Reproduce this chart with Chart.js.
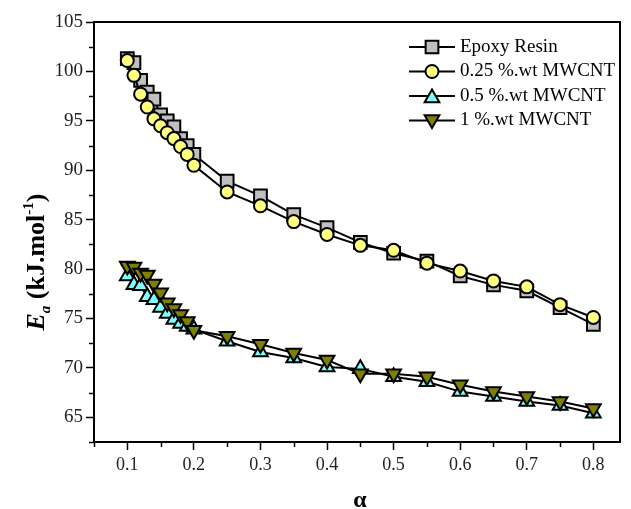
<!DOCTYPE html>
<html lang="en">
<head>
  <meta charset="UTF-8">
  <title>Activation energy vs conversion</title>
  <style>
    body { margin: 0; background: #fff; }
    .chart-box { width: 631px; height: 509px; position: relative; }
  </style>
  <script src="https://cdn.jsdelivr.net/npm/chart.js"></script>
</head>
<body>
  <div class="chart-box">
    <canvas id="eaChart"></canvas>
  </div>

  <script>
    // conversion values (alpha)
    const alpha = [0.10, 0.11, 0.12, 0.13, 0.14, 0.15, 0.16, 0.17, 0.18, 0.19, 0.20,
                   0.25, 0.30, 0.35, 0.40, 0.45, 0.50, 0.55, 0.60, 0.65, 0.70, 0.75, 0.80];

    // Ea (kJ/mol) per sample
    const epoxyResin = [101.3, 100.9, 99.1, 97.9, 97.2, 95.6, 95.0, 94.4, 93.2, 92.5, 91.6,
                        88.9, 87.4, 85.5, 84.2, 82.7, 81.6, 80.8, 79.3, 78.4, 77.8, 76.1, 74.4];
    const mwcnt025 = [101.1, 99.6, 97.7, 96.4, 95.2, 94.5, 93.8, 93.2, 92.4, 91.6, 90.5,
                      87.8, 86.4, 84.8, 83.5, 82.4, 81.9, 80.6, 79.8, 78.8, 78.2, 76.4, 75.1];
    const mwcnt05 = [79.3, 78.4, 78.3, 77.2, 76.9, 76.1, 75.5, 74.9, 74.5, 74.2, 73.9,
                     72.7, 71.6, 71.0, 70.1, 69.9, 69.1, 68.6, 67.6, 67.1, 66.6, 66.2, 65.4];
    const mwcnt1 = [80.3, 80.2, 79.6, 79.4, 78.5, 77.6, 76.6, 76.0, 75.4, 74.7, 73.8,
                    73.2, 72.4, 71.5, 70.8, 69.4, 69.4, 69.1, 68.3, 67.6, 67.1, 66.6, 65.9];

    const seriesLabels = ['Epoxy Resin', '0.25 %.wt MWCNT', '0.5 %.wt MWCNT', '1 %.wt MWCNT'];
    const xTicks = [0.1, 0.2, 0.3, 0.4, 0.5, 0.6, 0.7, 0.8];
    const yTicks = [65, 70, 75, 80, 85, 90, 95, 100, 105];

    const serif = "'Liberation Serif', 'Times New Roman', serif";

    function toPoints(ys) {
      return alpha.map((x, i) => ({ x: x, y: ys[i] }));
    }

    const datasets = [
      { label: seriesLabels[0], data: toPoints(epoxyResin), pointStyle: 'rect', pointRadius: 9,
        backgroundColor: '#c0c0c0', order: 4, rotation: 0 },
      { label: seriesLabels[1], data: toPoints(mwcnt025), pointStyle: 'circle', pointRadius: 6.5,
        backgroundColor: '#ffff80', order: 3, rotation: 0 },
      { label: seriesLabels[2], data: toPoints(mwcnt05), pointStyle: 'triangle', pointRadius: 8.5,
        backgroundColor: '#80ffff', order: 2, rotation: 0 },
      { label: seriesLabels[3], data: toPoints(mwcnt1), pointStyle: 'triangle', pointRadius: 8.5,
        backgroundColor: '#808000', order: 1, rotation: 180 }
    ].map(d => Object.assign(d, {
      borderColor: '#000',
      borderWidth: 2,
      pointBorderColor: '#000',
      pointBackgroundColor: d.backgroundColor,
      pointBorderWidth: 2,
      pointRotation: d.rotation,
      showLine: true,
      tension: 0
    }));

    // frame, minor ticks, axis titles, legend
    const decorations = {
      id: 'decorations',
      afterDraw(chart) {
        const ctx = chart.ctx;
        const a = chart.chartArea;
        const xs = chart.scales.x, ys = chart.scales.y;
        ctx.save();
        ctx.strokeStyle = '#000';
        ctx.lineWidth = 2;
        ctx.strokeRect(a.left, a.top, a.right - a.left, a.bottom - a.top);

        // minor ticks
        ctx.lineWidth = 1.5;
        ctx.beginPath();
        for (let v = 0.05; v < 0.84; v += 0.1) {
          const px = Math.round(xs.getPixelForValue(v)) + 0.5;
          ctx.moveTo(px, a.bottom);
          ctx.lineTo(px, a.bottom + 5);
        }
        for (let v = 62.5; v <= 105; v += 5) {
          const py = Math.round(ys.getPixelForValue(v)) + 0.5;
          ctx.moveTo(a.left, py);
          ctx.lineTo(a.left - 5, py);
        }
        ctx.stroke();

        // x title
        ctx.fillStyle = '#000';
        ctx.font = 'bold 24px ' + serif;
        ctx.textAlign = 'center';
        ctx.textBaseline = 'alphabetic';
        ctx.fillText('α', (a.left + a.right) / 2 + 3, 507);

        // y title with sub/superscript
        const parts = [
          { t: 'E', f: 'italic bold 26px ' + serif, dy: 0 },
          { t: 'a', f: 'italic bold 15px ' + serif, dy: 6 },
          { t: ' (kJ.mol', f: 'bold 26px ' + serif, dy: 0 },
          { t: '-1', f: 'bold 15px ' + serif, dy: -11 },
          { t: ')', f: 'bold 26px ' + serif, dy: 0 }
        ];
        let total = 0;
        parts.forEach(p => { ctx.font = p.f; p.w = ctx.measureText(p.t).width; total += p.w; });
        ctx.translate(44, 262);
        ctx.rotate(-Math.PI / 2);
        ctx.textAlign = 'left';
        let cx = -total / 2;
        parts.forEach(p => {
          ctx.font = p.f;
          ctx.fillText(p.t, cx, p.dy);
          cx += p.w;
        });
        ctx.setTransform(1, 0, 0, 1, 0, 0);

        // legend
        ctx.font = '19px ' + serif;
        ctx.textBaseline = 'middle';
        chart.data.datasets.forEach((ds, i) => {
          const ly = 47 + i * 24.5;
          ctx.strokeStyle = '#000';
          ctx.lineWidth = 2;
          ctx.beginPath();
          ctx.moveTo(409, ly);
          ctx.lineTo(455, ly);
          ctx.stroke();
          ctx.fillStyle = ds.pointBackgroundColor;
          ctx.strokeStyle = '#000';
          ctx.lineWidth = 2;
          let my = ly;
          if (ds.pointStyle === 'triangle') my += ds.pointRotation ? -1 : 2;
          Chart.helpers.drawPoint(ctx, {
            pointStyle: ds.pointStyle,
            rotation: ds.pointRotation,
            radius: ds.pointRadius,
            borderWidth: 2
          }, 432, my);
          ctx.fillStyle = '#000';
          ctx.fillText(ds.label, 460, ly);
        });
        ctx.restore();
      }
    };

    new Chart(document.getElementById('eaChart'), {
      type: 'scatter',
      data: { datasets: datasets },
      options: {
        responsive: true,
        maintainAspectRatio: false,
        animation: false,
        layout: { padding: { left: 0, top: 22, right: 5, bottom: 0 } },
        plugins: {
          legend: { display: false },
          tooltip: { enabled: false }
        },
        scales: {
          x: {
            type: 'linear',
            min: 0.05,
            max: 0.84,
            afterBuildTicks: s => { s.ticks = xTicks.map(v => ({ value: v })); },
            afterFit: s => { s.height = 67; },
            grid: { drawOnChartArea: false, tickLength: 8, tickColor: '#000', tickWidth: 1.5 },
            border: { display: true, color: '#000', width: 2 },
            ticks: {
              color: '#222',
              padding: 4,
              font: { family: serif, size: 18 },
              callback: v => v.toFixed(1)
            },
            title: { display: false }
          },
          y: {
            min: 62.5,
            max: 105,
            afterBuildTicks: s => { s.ticks = yTicks.map(v => ({ value: v })); },
            afterFit: s => { s.width = 94; },
            grid: { drawOnChartArea: false, tickLength: 8, tickColor: '#000', tickWidth: 1.5 },
            border: { display: true, color: '#000', width: 2 },
            ticks: {
              color: '#222',
              padding: 3,
              font: { family: serif, size: 19 },
              callback: v => String(v)
            },
            title: { display: false }
          }
        }
      },
      plugins: [decorations]
    });
  </script>
</body>
</html>
